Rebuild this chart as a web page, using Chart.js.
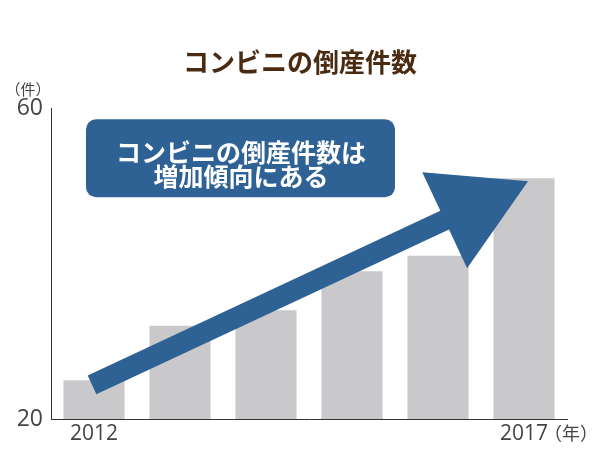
<!DOCTYPE html>
<html><head><meta charset="utf-8">
<script src="https://cdn.jsdelivr.net/npm/chart.js@4.4.0/dist/chart.umd.min.js"></script>
<style>html,body{margin:0;padding:0;background:#fff}#wrap{width:600px;height:450px}</style>
</head><body><div id="wrap"><canvas id="c"></canvas></div>
<script>
const categories = ['2012', '2013', '2014', '2015', '2016', '2017'];
const tickLabels = ['2012', '', '', '', '', '2017'];
const values = [25, 32, 34, 39, 41, 51];
const yTicks = [20, 60];
const titleText = 'コンビニの倒産件数';
const calloutLines = ['コンビニの倒産件数は', '増加傾向にある'];
const yUnit = '（件）';
const xUnit = '（年）';

const FONT = '"Noto Sans CJK JP", "Noto Sans", sans-serif';
const NUMFONT = '"Open Sans", "Noto Sans", sans-serif';
const BLUE = '#2e6294';

const overlay = {
  id: 'overlay',
  afterDatasetsDraw(chart) {
    const ctx = chart.ctx, x = chart.scales.x, y = chart.scales.y, a = chart.chartArea;
    ctx.save();
    // arrow (anchored on scale coordinates)
    const sx = x.getPixelForValue(-0.023), sy = y.getPixelForValue(24.4);
    const tx = x.getPixelForValue(5.047), ty = y.getPixelForValue(50.6);
    const dx = tx - sx, dy = ty - sy, L = Math.hypot(dx, dy);
    const ux = dx / L, uy = dy / L, nx = -uy, ny = ux;
    const sw = 10.3, hw = 53, hl = 92;
    const bx = tx - ux * hl, by = ty - uy * hl;
    ctx.fillStyle = BLUE;
    ctx.beginPath();
    ctx.moveTo(sx + nx * sw, sy + ny * sw);
    ctx.lineTo(bx + nx * sw, by + ny * sw);
    ctx.lineTo(bx + nx * hw, by + ny * hw);
    ctx.lineTo(tx, ty);
    ctx.lineTo(bx - nx * hw, by - ny * hw);
    ctx.lineTo(bx - nx * sw, by - ny * sw);
    ctx.lineTo(sx - nx * sw, sy - ny * sw);
    ctx.closePath();
    ctx.fill();
    // callout box
    const l = a.left + 35, t = a.top + 11, w = 309, h = 78;
    ctx.beginPath();
    ctx.roundRect(l, t, w, h, 10);
    ctx.fill();
    ctx.fillStyle = '#ffffff';
    ctx.font = 'bold 25px ' + FONT;
    ctx.textAlign = 'center';
    ctx.textBaseline = 'middle';
    ctx.fillText(calloutLines[0], l + w / 2 + 0.5, t + 33);
    ctx.fillText(calloutLines[1], l + w / 2 + 0.5, t + 57);
    // units
    ctx.fillStyle = '#444';
    ctx.font = '15px ' + FONT;
    ctx.fillText(yUnit, 28, a.top - 19);
    ctx.textAlign = 'left';
    ctx.font = '18px ' + FONT;
    ctx.fillText(xUnit, x.getPixelForValue(5) + 20, a.bottom + 14);
    ctx.restore();
  }
};

new Chart(document.getElementById('c'), {
  type: 'bar',
  data: {
    labels: categories,
    datasets: [{
      data: values,
      backgroundColor: '#c9c9cb',
      borderWidth: 0,
      barPercentage: 0.71,
      categoryPercentage: 1.0
    }]
  },
  options: {
    responsive: true,
    maintainAspectRatio: false,
    animation: false,
    layout: { padding: { left: 0, right: 0, top: 47, bottom: 0 } },
    plugins: {
      legend: { display: false },
      tooltip: { enabled: false },
      title: {
        display: true,
        text: titleText,
        color: '#4a2b12',
        font: { family: FONT, size: 26, weight: 'bold' },
        padding: { top: 0, bottom: 30 }
      }
    },
    scales: {
      x: {
        grid: { display: false, drawTicks: false },
        border: { display: true, color: '#333', width: 1 },
        ticks: {
          color: '#444',
          font: { family: NUMFONT, size: 21 },
          padding: 2,
          maxRotation: 0,
          autoSkip: false,
          callback: (v, i) => tickLabels[i]
        },
        afterFit: s => { s.height = 31; }
      },
      y: {
        min: 20, max: 60,
        grid: { display: false, drawTicks: false },
        border: { display: true, color: '#333', width: 1 },
        afterBuildTicks: s => { s.ticks = yTicks.map(v => ({ value: v })); },
        ticks: {
          color: '#444',
          font: { family: NUMFONT, size: 23 },
          padding: 8
        },
        afterFit: s => { s.width = 51; }
      },
      spacer: {
        position: 'right',
        grid: { display: false, drawTicks: false },
        border: { display: false },
        ticks: { display: false },
        afterFit: s => { s.width = 33; }
      }
    }
  },
  plugins: [overlay]
});
</script>
</body></html>
